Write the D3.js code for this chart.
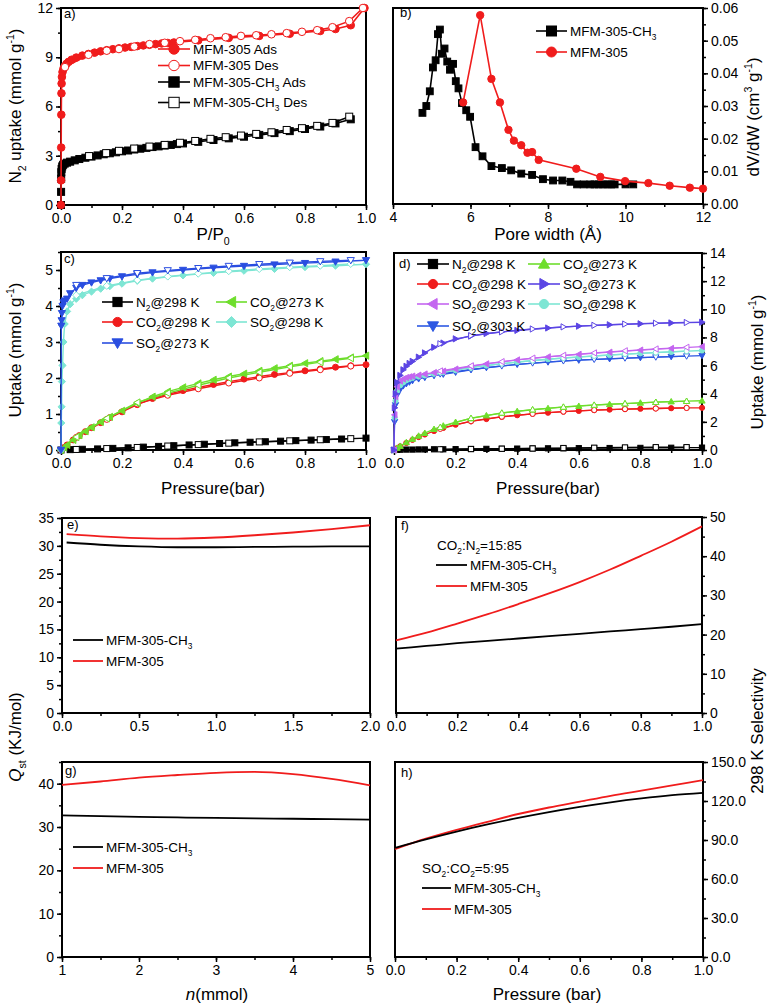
<!DOCTYPE html>
<html><head><meta charset="utf-8">
<script src="https://cdn.jsdelivr.net/npm/d3@7"></script>
<style>body{margin:0;background:#fff}svg{display:block}text{font-family:"Liberation Sans",Arial,Helvetica,sans-serif}</style>
</head><body><svg id="c" width="767" height="1006"></svg>
<script>
// ---------------- DATA ----------------
// Panel a: N2 isotherms (P/P0, mmol/g)
const aRedAdsX = [0,0.0003,0.0006,0.001,0.0015,0.002,0.003,0.005,0.008,0.012,0.018,0.025,0.035,0.05,0.07,0.09,0.11,0.13,0.15,0.17,0.19,0.21,0.23,0.25,0.27,0.29,0.31,0.33,0.35,0.37,0.45,0.55,0.65,0.75,0.85,0.9,0.95,0.995];
const aRedAdsY = [0,1.5,3.5,5.5,6.8,7.4,7.8,8.1,8.3,8.45,8.6,8.72,8.85,8.98,9.1,9.2,9.28,9.36,9.43,9.49,9.54,9.59,9.63,9.68,9.72,9.76,9.8,9.84,9.87,9.9,10.03,10.18,10.3,10.43,10.6,10.72,10.95,12.0];
const aRedDesX = [0.013,0.09,0.15,0.19,0.24,0.29,0.34,0.39,0.44,0.49,0.54,0.59,0.64,0.69,0.74,0.79,0.84,0.89,0.945,0.99];
const aRedDesY = [8.4,9.15,9.4,9.5,9.65,9.8,9.88,9.98,10.06,10.16,10.22,10.3,10.34,10.4,10.47,10.55,10.65,10.83,11.2,12.0];
const aBlkAdsX = [0,0.0003,0.0006,0.001,0.002,0.004,0.007,0.012,0.02,0.03,0.045,0.06,0.08,0.1,0.12,0.14,0.16,0.18,0.2,0.22,0.24,0.26,0.28,0.3,0.32,0.34,0.36,0.38,0.4,0.45,0.5,0.55,0.6,0.65,0.7,0.75,0.8,0.85,0.9,0.95];
const aBlkAdsY = [0,0.8,1.6,2.0,2.2,2.35,2.45,2.52,2.58,2.64,2.72,2.8,2.88,2.95,3.02,3.09,3.15,3.21,3.27,3.32,3.38,3.43,3.48,3.53,3.57,3.62,3.66,3.71,3.75,3.85,3.96,4.06,4.16,4.27,4.38,4.5,4.63,4.78,4.97,5.22];
const aBlkDesX = [0.092,0.148,0.19,0.24,0.29,0.34,0.39,0.44,0.49,0.54,0.59,0.64,0.69,0.74,0.79,0.84,0.89,0.945];
const aBlkDesY = [2.98,3.16,3.3,3.44,3.56,3.66,3.79,3.9,4.03,4.13,4.23,4.33,4.43,4.57,4.68,4.82,5.0,5.38];

// Panel b: pore size distribution (Å, cm3/g)
const bCH3X = [4.76,4.86,4.95,5.03,5.10,5.16,5.21,5.26,5.33,5.40,5.47,5.55,5.62,5.69,5.78,5.89,5.99,6.13,6.31,6.54,6.81,7.05,7.31,7.59,7.87,8.13,8.37,8.58,8.75,8.92,9.09,9.2,9.31,9.42,9.53,9.63,9.72,10.0,10.2];
const bCH3Y = [0.0279,0.0300,0.0345,0.0418,0.0440,0.0520,0.0534,0.0460,0.0476,0.0436,0.0411,0.0429,0.0376,0.0354,0.0309,0.0287,0.0267,0.0174,0.0146,0.0116,0.0110,0.0103,0.0093,0.0089,0.0076,0.0072,0.0072,0.0068,0.0060,0.0060,0.0060,0.0060,0.0060,0.0060,0.0060,0.0060,0.0060,0.0060,0.0060];
const b305X = [5.81,6.25,6.54,6.76,6.98,7.12,7.31,7.47,7.59,7.76,8.73,9.35,9.99,10.59,11.14,11.66,12.0];
const b305Y = [0.0311,0.0578,0.0383,0.0311,0.0227,0.0194,0.0180,0.0157,0.0159,0.0135,0.0108,0.0083,0.0070,0.0064,0.0056,0.0050,0.0047];

// Panel c: MFM-305-CH3 gas isotherms (bar, mmol/g)
const cGridX = [0,0.01,0.02,0.04,0.06,0.08,0.1,0.13,0.16,0.2,0.25,0.3,0.35,0.4,0.45,0.5,0.55,0.6,0.65,0.7,0.75,0.8,0.85,0.9,0.95,1.0];
const cDesX = [0.05,0.15,0.25,0.35,0.45,0.55,0.65,0.75,0.85,0.95];
const cN2X = [0,0.03,0.07,0.12,0.17,0.22,0.27,0.32,0.37,0.42,0.47,0.52,0.57,0.62,0.67,0.72,0.77,0.82,0.87,0.92,1.0];
const cN2Y = [0,0.01,0.02,0.03,0.045,0.06,0.08,0.1,0.12,0.14,0.16,0.18,0.2,0.215,0.23,0.245,0.26,0.275,0.29,0.305,0.33];
const cN2Des = [0.015,0.04,0.07,0.11,0.15,0.19,0.225,0.255,0.285,0.315];
const cCO2_298 = [0,0.07,0.14,0.28,0.4,0.51,0.62,0.76,0.9,1.06,1.26,1.43,1.55,1.65,1.74,1.82,1.9,1.97,2.04,2.1,2.15,2.2,2.25,2.3,2.34,2.37];
const cCO2_298Des = [0.35,0.85,1.28,1.52,1.7,1.86,2.0,2.13,2.23,2.33];
const cCO2_273 = [0,0.07,0.14,0.28,0.41,0.52,0.63,0.78,0.92,1.09,1.3,1.48,1.62,1.74,1.85,1.95,2.04,2.12,2.2,2.27,2.34,2.41,2.47,2.52,2.57,2.62];
const cCO2_273Des = [0.36,0.88,1.32,1.58,1.8,2.0,2.16,2.31,2.44,2.55];
const cSO2X = [0,0.001,0.002,0.003,0.005,0.008,0.012,0.02,0.03,0.05,0.07,0.1,0.13,0.16,0.2,0.25,0.3,0.4,0.5,0.6,0.7,0.8,0.9,1.0];
const cSO2_298 = [0,0.75,1.2,1.9,2.35,3.0,3.5,3.85,4.05,4.2,4.3,4.4,4.48,4.55,4.62,4.7,4.76,4.85,4.92,4.98,5.03,5.08,5.12,5.16];
const cSO2_298Des = [4.3,4.56,4.72,4.82,4.9,4.97,5.03,5.08,5.12,5.17];
const cSO2_273 = [0,3.45,3.6,3.8,4.0,4.1,4.15,4.2,4.35,4.5,4.58,4.65,4.71,4.76,4.82,4.88,4.93,5.0,5.06,5.11,5.15,5.19,5.23,5.27];
const cSO2_273Des = [4.58,4.77,4.91,4.99,5.05,5.11,5.16,5.2,5.24,5.27];

// Panel d: MFM-305 gas isotherms (bar, mmol/g)
const dGridX = [0,0.01,0.02,0.04,0.06,0.08,0.1,0.13,0.16,0.2,0.25,0.3,0.35,0.4,0.45,0.5,0.55,0.6,0.65,0.7,0.75,0.8,0.85,0.9,0.95,1.0];
const dN2 = [0,0.01,0.02,0.03,0.03,0.04,0.04,0.05,0.05,0.06,0.07,0.08,0.09,0.1,0.11,0.12,0.12,0.13,0.14,0.14,0.15,0.15,0.16,0.16,0.17,0.17];
const dCO2_298 = [0,0.13,0.26,0.5,0.72,0.92,1.1,1.35,1.57,1.8,2.03,2.2,2.35,2.47,2.57,2.65,2.72,2.78,2.83,2.87,2.9,2.93,2.95,2.97,2.99,3.0];
const dCO2_273 = [0,0.14,0.28,0.54,0.78,1.0,1.2,1.48,1.72,1.98,2.24,2.45,2.62,2.75,2.86,2.96,3.05,3.12,3.19,3.25,3.3,3.35,3.4,3.44,3.47,3.5];
const dSO2X = [0,0.002,0.005,0.01,0.02,0.03,0.04,0.05,0.06,0.08,0.1,0.13,0.16,0.2,0.25,0.3,0.4,0.5,0.6,0.7,0.8,0.9,1.0];
const dSO2_273 = [0,3.0,4.0,4.8,5.3,5.7,5.95,6.15,6.3,6.6,6.9,7.3,7.6,7.9,8.1,8.28,8.5,8.67,8.8,8.9,8.97,9.03,9.08];
const dSO2_293 = [0,2.5,3.8,4.5,4.9,5.05,5.15,5.2,5.25,5.32,5.4,5.5,5.6,5.75,5.95,6.12,6.4,6.62,6.8,6.95,7.1,7.22,7.35];
const dSO2_298 = [0,2.3,3.5,4.2,4.6,4.8,4.95,5.05,5.12,5.22,5.3,5.42,5.52,5.66,5.85,6.0,6.25,6.45,6.6,6.75,6.87,6.97,7.07];
const dSO2_303 = [0,2.0,3.2,3.9,4.3,4.55,4.7,4.82,4.92,5.05,5.15,5.28,5.38,5.52,5.7,5.85,6.08,6.25,6.38,6.48,6.56,6.63,6.7];
const dDesX = [0.15,0.25,0.35,0.45,0.55,0.65,0.75,0.85,0.95];
const dN2Des = [0.05,0.07,0.09,0.11,0.14,0.16,0.18,0.2,0.2];
const dCO2_298Des = [1.5,2.05,2.37,2.57,2.73,2.84,2.91,2.95,2.99];
const dCO2_273Des = [1.62,2.26,2.64,2.87,3.06,3.2,3.3,3.4,3.47];
const dSO2_273Des = [7.55,8.12,8.4,8.6,8.75,8.86,8.95,9.01,9.06];
const dSO2_293Des = [5.62,5.98,6.28,6.53,6.73,6.9,7.05,7.18,7.3];
const dSO2_298Des = [5.55,5.88,6.14,6.36,6.54,6.69,6.82,6.93,7.03];
const dSO2_303Des = [5.4,5.72,5.97,6.18,6.33,6.44,6.53,6.6,6.67];

// Panel e: Qst CO2 (mmol, kJ/mol)
const eX = [0.03,0.25,0.5,0.75,1.0,1.25,1.5,1.75,2.0];
const eCH3 = [30.6,30.2,29.9,29.75,29.75,29.8,29.85,29.9,29.9];
const e305 = [32.1,31.7,31.4,31.3,31.5,31.9,32.4,33.0,33.7];
// Panel f: CO2/N2 selectivity
const fX = [0,0.1,0.2,0.3,0.4,0.5,0.6,0.7,0.8,0.9,1.0];
const fCH3 = [16.4,17.1,17.8,18.4,19.0,19.6,20.2,20.8,21.4,22.0,22.7];
const f305 = [18.5,20.5,22.8,25.2,27.8,30.5,33.4,36.6,40.1,43.7,47.6];
// Panel g: Qst SO2
const gX = [1,1.5,2,2.5,3,3.5,4,4.5,5];
const gCH3 = [32.7,32.5,32.35,32.2,32.1,32.0,31.9,31.8,31.7];
const g305 = [39.7,40.5,41.4,42.0,42.5,42.7,42.2,41.1,39.6];
// Panel h: SO2/CO2 selectivity
const hX = [0,0.1,0.2,0.3,0.4,0.5,0.6,0.7,0.8,0.9,1.0];
const hCH3 = [84,90.5,96.5,102,107,111.5,115.5,119,122,124.5,126.3];
const h305 = [83,91,97.8,104,110,115,119.5,124,128,132,136];

// Tick labels
const ticks01 = [0,0.2,0.4,0.6,0.8,1.0];
const aYTicks = [0,3,6,9,12];
const bXTicks = [4,6,8,10,12];
const bYTicks = [0,0.01,0.02,0.03,0.04,0.05,0.06];
const cYTicks = [0,1,2,3,4,5];
const dYTicks = [0,2,4,6,8,10,12,14];
const eXTicks = [0,0.5,1.0,1.5,2.0];
const eYTicks = [0,5,10,15,20,25,30,35];
const fYTicks = [0,10,20,30,40,50];
const gXTicks = [1,2,3,4,5];
const gYTicks = [0,10,20,30,40];
const hYTicks = [0,30,60,90,120,150];

// ---------------- DRAWING ----------------
const svg = d3.select("#c");
const zip = (xs, ys) => xs.map((x, i) => [x, ys[i]]);
const minors = (a, b, s) => d3.range(Math.round((b - a) / s) + 1).map(i => +(a + i * s).toFixed(6));

function rich(t, s, fs) {
  const parts = s.split(/(_\{[^}]*\}|\^\{[^}]*\}|\*\{[^}]*\})/).filter(p => p !== "");
  let shift = 0;
  parts.forEach(p => {
    let target = 0, txt = p, size = fs, italic = false;
    if (p.startsWith("_{")) { target = fs * 0.3; txt = p.slice(2, -1); size = fs * 0.62; }
    else if (p.startsWith("^{")) { target = -fs * 0.4; txt = p.slice(2, -1); size = fs * 0.62; }
    else if (p.startsWith("*{")) { txt = p.slice(2, -1); italic = true; }
    const ts = t.append("tspan").attr("dy", target - shift).attr("font-size", size).text(txt);
    if (italic) ts.attr("font-style", "italic");
    shift = target;
  });
}

function mk(g, type, cx, cy, h, color, filled, sw) {
  const fill = filled ? color : "#fff";
  let el;
  if (type === "circle") el = g.append("circle").attr("cx", cx).attr("cy", cy).attr("r", h);
  else if (type === "square") el = g.append("rect").attr("x", cx - h).attr("y", cy - h).attr("width", 2 * h).attr("height", 2 * h);
  else {
    const k = h * 1.2;
    let pts;
    if (type === "up") pts = [[0, -k], [k, k * 0.75], [-k, k * 0.75]];
    if (type === "down") pts = [[0, k], [k, -k * 0.75], [-k, -k * 0.75]];
    if (type === "left") pts = [[-k, 0], [k * 0.75, -k], [k * 0.75, k]];
    if (type === "right") pts = [[k, 0], [-k * 0.75, -k], [-k * 0.75, k]];
    if (type === "diamond") pts = [[0, -k], [k, 0], [0, k], [-k, 0]];
    el = g.append("polygon").attr("points", pts.map(p => (cx + p[0]) + "," + (cy + p[1])).join(" "));
  }
  el.attr("fill", fill).attr("stroke", color).attr("stroke-width", sw || 1);
}

function panel(o) {
  const x = d3.scaleLinear().domain(o.xd).range([o.x0, o.x1]);
  const y = d3.scaleLinear().domain(o.yd).range([o.y1, o.y0]);
  const g = svg.append("g");
  g.append("g").attr("transform", `translate(0,${o.y1})`)
    .call(d3.axisBottom(x).tickValues(o.xt).tickFormat(o.xf).tickSize(5).tickPadding(3).tickSizeOuter(0));
  g.append("g").attr("transform", `translate(0,${o.y1})`)
    .call(d3.axisBottom(x).tickValues(o.xm).tickFormat("").tickSize(3).tickSizeOuter(0));
  const ax = o.right ? d3.axisRight : d3.axisLeft;
  const yx = o.right ? o.x1 : o.x0;
  g.append("g").attr("transform", `translate(${yx},0)`)
    .call(ax(y).tickValues(o.yt).tickFormat(o.yf).tickSize(5).tickPadding(3).tickSizeOuter(0));
  g.append("g").attr("transform", `translate(${yx},0)`)
    .call(ax(y).tickValues(o.ym).tickFormat("").tickSize(3).tickSizeOuter(0));
  g.selectAll(".domain").remove();
  g.selectAll(".tick line").attr("stroke", "#000").attr("stroke-width", 1.5);
  g.selectAll(".tick text").attr("font-size", 14).attr("font-family", '"Liberation Sans",Arial,sans-serif').attr("fill", "#000");
  g.append("rect").attr("x", o.x0).attr("y", o.y0).attr("width", o.x1 - o.x0).attr("height", o.y1 - o.y0)
    .attr("fill", "none").attr("stroke", "#000").attr("stroke-width", 2);
  g.append("text").attr("x", o.lx).attr("y", o.ly).attr("font-size", 13).text(o.label);
  return { x, y, g };
}

function series(P, pts, color, type, h, filled, lw) {
  const line = d3.line().x(d => P.x(d[0])).y(d => P.y(d[1]));
  P.g.append("path").attr("d", line(pts)).attr("fill", "none").attr("stroke", color).attr("stroke-width", lw);
  if (type) pts.forEach(d => mk(P.g, type, P.x(d[0]), P.y(d[1]), h, color, filled, 1));
}
function smooth(P, pts, color, lw) {
  const line = d3.line().curve(d3.curveMonotoneX).x(d => P.x(d[0])).y(d => P.y(d[1]));
  P.g.append("path").attr("d", line(pts)).attr("fill", "none").attr("stroke", color).attr("stroke-width", lw);
}
function legend(P, items, o) {
  items.forEach(it => {
    const lx0 = it.x, lx1 = it.x + o.len;
    if (it.color) {
      P.g.append("line").attr("x1", lx0).attr("x2", lx1).attr("y1", it.y).attr("y2", it.y)
        .attr("stroke", it.color).attr("stroke-width", o.lw);
      if (it.type) mk(P.g, it.type, (lx0 + lx1) / 2, it.y, o.h, it.color, it.filled !== false, 1);
    }
    const t = P.g.append("text").attr("x", it.color ? lx1 + 3 : lx0).attr("y", it.y + o.fs * 0.36).attr("font-size", o.fs);
    rich(t, it.label, o.fs);
  });
}
function title(x, y, s, rot, fs) {
  const t = svg.append("text").attr("transform", `translate(${x},${y})` + (rot ? " rotate(-90)" : ""))
    .attr("text-anchor", "middle").attr("font-size", fs || 17);
  rich(t, s, fs || 17);
}

const RED = "#f01c1c", GREEN = "#6ede2c", CYAN = "#7ee6d4", BLUE = "#2a4ee0",
  PURPLE = "#5b45e4", VIOLET = "#c466f0", BLUE2 = "#2d58e2";
const f1 = d3.format(".1f"), f0 = d3.format("d"), f2 = d3.format(".2f");

// ---- Panel a
const A = panel({ x0: 61, x1: 366, y0: 8, y1: 205, xd: [0, 1], yd: [0, 12], xt: ticks01, xf: f1, xm: minors(0, 1, 0.1),
  yt: aYTicks, yf: f0, ym: minors(0, 12, 1.5), label: "a)", lx: 64, ly: 18 });
series(A, zip(aBlkAdsX, aBlkAdsY), "#000", "square", 3.5, true, 1.6);
series(A, zip(aBlkDesX, aBlkDesY), "#000", "square", 3.5, false, 1.6);
series(A, zip(aRedAdsX, aRedAdsY), RED, "circle", 3.8, true, 1.6);
series(A, zip(aRedDesX, aRedDesY), RED, "circle", 3.8, false, 1.6);
legend(A, [
  { x: 158, y: 49, label: "MFM-305 Ads", color: RED, type: "circle" },
  { x: 158, y: 65.5, label: "MFM-305 Des", color: RED, type: "circle", filled: false },
  { x: 158, y: 82, label: "MFM-305-CH_{3} Ads", color: "#000", type: "square" },
  { x: 158, y: 102.5, label: "MFM-305-CH_{3} Des", color: "#000", type: "square", filled: false }
], { len: 32, lw: 1.6, h: 5.2, fs: 13.5 });

// ---- Panel b
const B = panel({ x0: 393, x1: 703, y0: 8, y1: 204, xd: [4, 12], yd: [0, 0.06], xt: bXTicks, xf: f0, xm: minors(4, 12, 1),
  yt: bYTicks, yf: f2, ym: minors(0, 0.06, 0.005), right: true, label: "b)", lx: 400, ly: 17 });
series(B, zip(bCH3X, bCH3Y), "#000", "square", 3.4, true, 1.6);
series(B, zip(b305X, b305Y), RED, "circle", 3.7, true, 1.6);
legend(B, [
  { x: 536, y: 31, label: "MFM-305-CH_{3}", color: "#000", type: "square" },
  { x: 536, y: 52, label: "MFM-305", color: RED, type: "circle" }
], { len: 31, lw: 1.6, h: 5, fs: 13.5 });

// ---- Panel c
const C = panel({ x0: 61, x1: 366, y0: 252, y1: 450, xd: [0, 1], yd: [0, 5.5], xt: ticks01, xf: f1, xm: minors(0, 1, 0.1),
  yt: cYTicks, yf: f0, ym: minors(0, 5.5, 0.5), label: "c)", lx: 64, ly: 263 });
series(C, zip(cN2X, cN2Y), "#000", "square", 3, true, 1.4);
series(C, zip(cDesX, cN2Des), "#000", "square", 3, false, 1.4);
series(C, zip(cGridX, cCO2_298), RED, "circle", 3, true, 1.4);
series(C, zip(cDesX, cCO2_298Des), RED, "circle", 3, false, 1.4);
series(C, zip(cGridX, cCO2_273), GREEN, "left", 3, true, 1.4);
series(C, zip(cDesX, cCO2_273Des), GREEN, "left", 3, false, 1.4);
series(C, zip(cSO2X, cSO2_298), CYAN, "diamond", 3, true, 1.4);
series(C, zip(cDesX, cSO2_298Des), CYAN, "diamond", 3, false, 1.4);
series(C, zip(cSO2X, cSO2_273), BLUE, "down", 3, true, 1.4);
series(C, zip(cDesX, cSO2_273Des), BLUE, "down", 3, false, 1.4);
legend(C, [
  { x: 102, y: 302, label: "N_{2}@298 K", color: "#000", type: "square" },
  { x: 102, y: 322, label: "CO_{2}@298 K", color: RED, type: "circle" },
  { x: 102, y: 343, label: "SO_{2}@273 K", color: BLUE, type: "down" },
  { x: 216, y: 302, label: "CO_{2}@273 K", color: GREEN, type: "left" },
  { x: 216, y: 322, label: "SO_{2}@298 K", color: CYAN, type: "diamond" }
], { len: 31, lw: 1.6, h: 4.6, fs: 13.5 });

// ---- Panel d
const D = panel({ x0: 394, x1: 702, y0: 253, y1: 450, xd: [0, 1], yd: [0, 14], xt: ticks01, xf: f1, xm: minors(0, 1, 0.1),
  yt: dYTicks, yf: f0, ym: minors(0, 14, 1), right: true, label: "d)", lx: 399, ly: 268 });
series(D, zip(dGridX, dN2), "#000", "square", 2.6, true, 1.3);
series(D, zip(dDesX, dN2Des), "#000", "square", 2.6, false, 1.3);
series(D, zip(dGridX, dCO2_298), RED, "circle", 2.6, true, 1.3);
series(D, zip(dDesX, dCO2_298Des), RED, "circle", 2.6, false, 1.3);
series(D, zip(dGridX, dCO2_273), GREEN, "up", 2.6, true, 1.3);
series(D, zip(dDesX, dCO2_273Des), GREEN, "up", 2.6, false, 1.3);
series(D, zip(dSO2X, dSO2_303), BLUE2, "down", 2.6, true, 1.3);
series(D, zip(dDesX, dSO2_303Des), BLUE2, "down", 2.6, false, 1.3);
series(D, zip(dSO2X, dSO2_298), CYAN, "circle", 2.6, true, 1.3);
series(D, zip(dDesX, dSO2_298Des), CYAN, "circle", 2.6, false, 1.3);
series(D, zip(dSO2X, dSO2_293), VIOLET, "left", 2.6, true, 1.3);
series(D, zip(dDesX, dSO2_293Des), VIOLET, "left", 2.6, false, 1.3);
series(D, zip(dSO2X, dSO2_273), PURPLE, "right", 2.6, true, 1.3);
series(D, zip(dDesX, dSO2_273Des), PURPLE, "right", 2.6, false, 1.3);
legend(D, [
  { x: 417, y: 264, label: "N_{2}@298 K", color: "#000", type: "square" },
  { x: 417, y: 284, label: "CO_{2}@298 K", color: RED, type: "circle" },
  { x: 417, y: 304, label: "SO_{2}@293 K", color: VIOLET, type: "left" },
  { x: 417, y: 326, label: "SO_{2}@303 K", color: BLUE2, type: "down" },
  { x: 528, y: 264, label: "CO_{2}@273 K", color: GREEN, type: "up" },
  { x: 528, y: 284, label: "SO_{2}@273 K", color: PURPLE, type: "right" },
  { x: 528, y: 304, label: "SO_{2}@298 K", color: CYAN, type: "circle" }
], { len: 32, lw: 1.6, h: 4.6, fs: 13.5 });

// ---- Panel e
const E = panel({ x0: 62, x1: 370, y0: 518, y1: 713, xd: [0, 2], yd: [0, 35], xt: eXTicks, xf: f1, xm: minors(0, 2, 0.25),
  yt: eYTicks, yf: f0, ym: minors(0, 35, 2.5), label: "e)", lx: 67, ly: 529 });
smooth(E, zip(eX, eCH3), "#000", 1.8);
smooth(E, zip(eX, e305), RED, 1.8);
legend(E, [
  { x: 73, y: 640, label: "MFM-305-CH_{3}", color: "#000" },
  { x: 73, y: 661, label: "MFM-305", color: RED }
], { len: 30, lw: 1.8, h: 0, fs: 13.5 });

// ---- Panel f
const F = panel({ x0: 396, x1: 702, y0: 517, y1: 713, xd: [0, 1], yd: [0, 50], xt: ticks01, xf: f1, xm: minors(0, 1, 0.1),
  yt: fYTicks, yf: f0, ym: minors(0, 50, 5), right: true, label: "f)", lx: 401, ly: 530 });
smooth(F, zip(fX, fCH3), "#000", 1.8);
smooth(F, zip(fX, f305), RED, 1.8);
legend(F, [
  { x: 437, y: 545, label: "CO_{2}:N_{2}=15:85" },
  { x: 436, y: 565, label: "MFM-305-CH_{3}", color: "#000" },
  { x: 436, y: 586, label: "MFM-305", color: RED }
], { len: 31, lw: 1.8, h: 0, fs: 13.5 });

// ---- Panel g
const G = panel({ x0: 62, x1: 370, y0: 762, y1: 957, xd: [1, 5], yd: [0, 45], xt: gXTicks, xf: f0, xm: minors(1, 5, 0.5),
  yt: gYTicks, yf: f0, ym: minors(0, 45, 5), label: "g)", lx: 65, ly: 775 });
smooth(G, zip(gX, gCH3), "#000", 1.8);
smooth(G, zip(gX, g305), RED, 1.8);
legend(G, [
  { x: 73, y: 847, label: "MFM-305-CH_{3}", color: "#000" },
  { x: 73, y: 868, label: "MFM-305", color: RED }
], { len: 30, lw: 1.8, h: 0, fs: 13.5 });

// ---- Panel h
const H = panel({ x0: 395, x1: 703, y0: 762, y1: 957, xd: [0, 1], yd: [0, 150], xt: ticks01, xf: f1, xm: minors(0, 1, 0.1),
  yt: hYTicks, yf: f1, ym: minors(0, 150, 15), right: true, label: "h)", lx: 401, ly: 777 });
smooth(H, zip(hX, h305), RED, 1.8);
smooth(H, zip(hX, hCH3), "#000", 1.8);
legend(H, [
  { x: 422, y: 868, label: "SO_{2}:CO_{2}=5:95" },
  { x: 422, y: 888, label: "MFM-305-CH_{3}", color: "#000" },
  { x: 422, y: 909, label: "MFM-305", color: RED }
], { len: 29, lw: 1.8, h: 0, fs: 13.5 });

// ---- Axis titles
title(21, 106, "N_{2} uptake (mmol g^{-1})", true);
title(213, 240, "P/P_{0}");
title(548, 240, "Pore width (Å)");
title(759, 117, "dV/dW (cm^{3} g^{-1})", true);
title(21, 350, "Uptake (mmol g^{-1})", true);
title(213, 494, "Pressure(bar)");
title(548, 494, "Pressure(bar)");
title(763, 362, "Uptake (mmol g^{-1})", true);
title(21, 737, "*{Q}_{st} (KJ/mol)", true);
title(763, 731, "298 K Selectivity", true);
title(217, 1000, "*{n}(mmol)");
title(547, 1000, "Pressure (bar)");
</script></body></html>
